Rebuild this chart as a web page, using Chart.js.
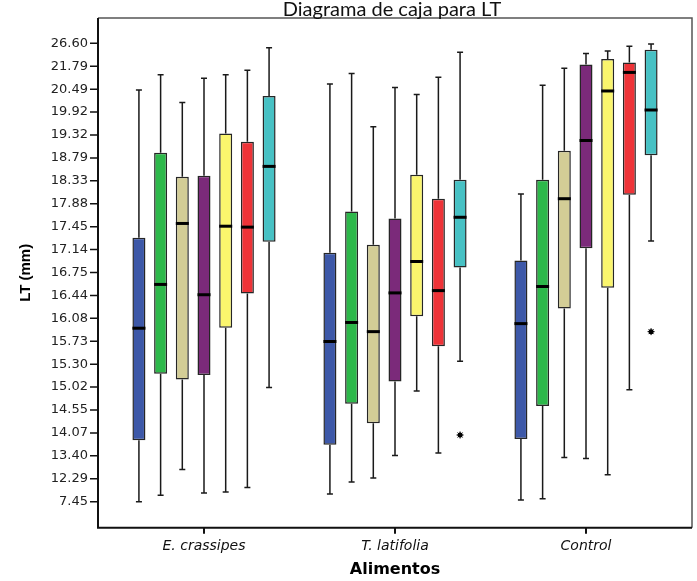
<!DOCTYPE html>
<html>
<head>
<meta charset="utf-8">
<script src="https://cdn.jsdelivr.net/npm/chart.js@4.4.1/dist/chart.umd.min.js"></script>
<style>
  html, body { margin: 0; padding: 0; background: #fff; }
</style>
</head>
<body>
<canvas id="grafico" width="697" height="581"></canvas>
<script>
// categorias del eje x
const alimentos = ['E. crassipes', 'T. latifolia', 'Control'];
// etiquetas del eje y (igualmente espaciadas, posicion = indice)
const etiquetasY = ['7.45', '12.29', '13.40', '14.07', '14.55', '15.02', '15.30', '15.73', '16.08', '16.44',
  '16.75', '17.14', '17.45', '17.88', '18.33', '18.79', '19.32', '19.92', '20.49', '21.79', '26.60'];

const series = ['Serie 1', 'Serie 2', 'Serie 3', 'Serie 4', 'Serie 5', 'Serie 6', 'Serie 7'];
const colores = ['#3d58a8', '#2db84a', '#d3cd96', '#7b2a7a', '#faf56d', '#ee3338', '#47c1c4'];

// estadisticos por serie, cada uno con [E. crassipes, T. latifolia, Control]
const maximos = [
  [17.96, 18.22, 13.42], [18.63, 18.68, 18.17], [17.42, 16.36, 18.91], [18.47, 18.07, 19.56],
  [18.63, 17.77, 19.66], [18.82, 18.52, 19.87], [19.81, 19.61, 19.97]
];
const cuartil3 = [
  [11.52, 10.86, 10.52], [15.23, 12.66, 14.05], [14.18, 11.21, 15.31], [14.22, 12.36, 19.07],
  [16.06, 14.27, 19.31], [15.71, 13.22, 19.16], [17.70, 14.05, 19.72]
];
const medianas = [
  [7.57, 6.99, 7.77], [9.48, 7.82, 9.39], [12.14, 7.42, 13.22], [9.03, 9.11, 15.76],
  [12.02, 10.48, 17.92], [11.98, 9.21, 18.73], [14.63, 12.41, 17.09]
];
const cuartil1 = [
  [2.68, 2.48, 2.74], [5.58, 4.27, 4.18], [5.33, 3.42, 8.43], [5.53, 5.24, 11.06],
  [7.59, 8.09, 9.34], [9.08, 6.78, 13.39], [11.34, 10.22, 15.12]
];
const minimos = [
  [0.00, 0.34, 0.07], [0.28, 0.86, 0.13], [1.41, 1.03, 1.93], [0.38, 2.02, 1.88],
  [0.42, 4.83, 1.18], [0.62, 2.13, 4.88], [4.98, 6.13, 11.38]
];
const atipicos = [
  [null, null, null], [null, null, null], [null, null, null], [null, null, null],
  [null, null, null], [null, null, null], [null, 2.91, 7.42]
];

const MARCO = 10.5; // distancia del marco al area de datos
const FUENTE = "'DejaVu Sans', sans-serif";

const bigotes = {
  id: 'bigotes',
  beforeDatasetsDraw(chart) {
    const ctx = chart.ctx, y = chart.scales.y;
    ctx.save();
    ctx.strokeStyle = '#1a1a1a';
    ctx.lineWidth = 1.5;
    series.forEach((_, s) => {
      chart.getDatasetMeta(s).data.forEach((bar, c) => {
        const x = bar.x;
        const yMax = y.getPixelForValue(maximos[s][c]);
        const yMin = y.getPixelForValue(minimos[s][c]);
        ctx.beginPath();
        ctx.moveTo(x, y.getPixelForValue(cuartil3[s][c])); ctx.lineTo(x, yMax);
        ctx.moveTo(x, y.getPixelForValue(cuartil1[s][c])); ctx.lineTo(x, yMin);
        ctx.moveTo(x - 3, yMax); ctx.lineTo(x + 3, yMax);
        ctx.moveTo(x - 3, yMin); ctx.lineTo(x + 3, yMin);
        ctx.stroke();
      });
    });
    ctx.restore();
  },
  afterDatasetsDraw(chart) {
    const ctx = chart.ctx, y = chart.scales.y;
    ctx.save();
    series.forEach((_, s) => {
      chart.getDatasetMeta(s).data.forEach((bar, c) => {
        const ym = y.getPixelForValue(medianas[s][c]);
        ctx.strokeStyle = '#000';
        ctx.lineWidth = 3;
        ctx.beginPath();
        ctx.moveTo(bar.x - bar.width / 2, ym);
        ctx.lineTo(bar.x + bar.width / 2, ym);
        ctx.stroke();
        const o = atipicos[s][c];
        if (o !== null) {
          const yo = y.getPixelForValue(o);
          ctx.fillStyle = '#000';
          ctx.beginPath();
          ctx.arc(bar.x, yo, 2.5, 0, Math.PI * 2);
          ctx.fill();
          ctx.lineWidth = 1;
          ctx.beginPath();
          for (let k = 0; k < 4; k++) {
            const a = k * Math.PI / 4;
            ctx.moveTo(bar.x - 3.5 * Math.cos(a), yo - 3.5 * Math.sin(a));
            ctx.lineTo(bar.x + 3.5 * Math.cos(a), yo + 3.5 * Math.sin(a));
          }
          ctx.stroke();
        }
      });
    });
    ctx.restore();
  }
};

const marco = {
  id: 'marco',
  afterDraw(chart) {
    const { ctx, chartArea: a } = chart;
    const y = chart.scales.y;
    const izq = a.left - MARCO, der = a.right + MARCO;
    ctx.save();
    ctx.strokeStyle = '#555';
    ctx.lineWidth = 1.5;
    ctx.beginPath();
    ctx.moveTo(izq, a.top); ctx.lineTo(der, a.top); ctx.lineTo(der, a.bottom);
    ctx.stroke();
    ctx.strokeStyle = '#111';
    ctx.lineWidth = 2;
    ctx.beginPath();
    ctx.moveTo(izq, a.top); ctx.lineTo(izq, a.bottom); ctx.lineTo(der, a.bottom);
    ctx.stroke();
    ctx.lineWidth = 1.5;
    ctx.beginPath();
    etiquetasY.forEach((_, i) => {
      const py = y.getPixelForValue(i);
      ctx.moveTo(izq - 8, py); ctx.lineTo(izq, py);
    });
    ctx.stroke();
    // titulo
    ctx.fillStyle = '#111';
    ctx.font = '20px Lato';
    ctx.textAlign = 'center';
    ctx.textBaseline = 'alphabetic';
    ctx.fillText('Diagrama de caja para LT', (izq + der) / 2 - 3, 16);
    ctx.restore();
  }
};

const grafico = document.getElementById('grafico').getContext('2d');

const myChart = new Chart(grafico, {
  type: 'bar',
  data: {
    labels: alimentos,
    datasets: series.map((nombre, s) => ({
      label: nombre,
      data: cuartil1[s].map((v, c) => [v, cuartil3[s][c]]),
      backgroundColor: colores[s],
      borderColor: '#262626',
      borderWidth: 1.5,
      borderSkipped: false,
      categoryPercentage: 0.795,
      barPercentage: 0.6
    }))
  },
  options: {
    responsive: false,
    animation: false,
    layout: { padding: { top: 18, right: 15.5, left: 0, bottom: 0 } },
    plugins: {
      legend: { display: false },
      tooltip: { enabled: false },
      title: { display: false }
    },
    scales: {
      x: {
        afterFit(s) { s.height = 53.3; s.paddingLeft = 0; s.paddingRight = 0; },
        border: { display: false },
        grid: { offset: false, drawOnChartArea: false, drawTicks: true, tickLength: 6, color: '#111', lineWidth: 2 },
        ticks: { color: '#111', padding: 4, font: { family: FUENTE, size: 14, style: 'italic' } },
        title: {
          display: true, text: 'Alimentos', color: '#000',
          font: { family: FUENTE, size: 16, weight: 'bold' },
          padding: { top: 0, bottom: 2 }
        }
      },
      y: {
        min: -1.134,
        max: 21.104,
        afterFit(s) { s.width = 108.5; s.paddingTop = 0; s.paddingBottom = 0; },
        afterBuildTicks(s) { s.ticks = etiquetasY.map((_, i) => ({ value: i })); },
        border: { display: false },
        grid: { display: false, drawTicks: false },
        ticks: {
          color: '#222', padding: 20.5, autoSkip: false,
          font: { family: FUENTE, size: 13 },
          callback: (v) => etiquetasY[v]
        },
        title: {
          display: true, text: 'LT (mm)', color: '#000',
          font: { family: "'Liberation Sans', Arial, sans-serif", size: 15, weight: 'bold' },
          padding: { top: 17, bottom: 0 }
        }
      }
    }
  },
  plugins: [bigotes, marco]
});
</script>
</body>
</html>
